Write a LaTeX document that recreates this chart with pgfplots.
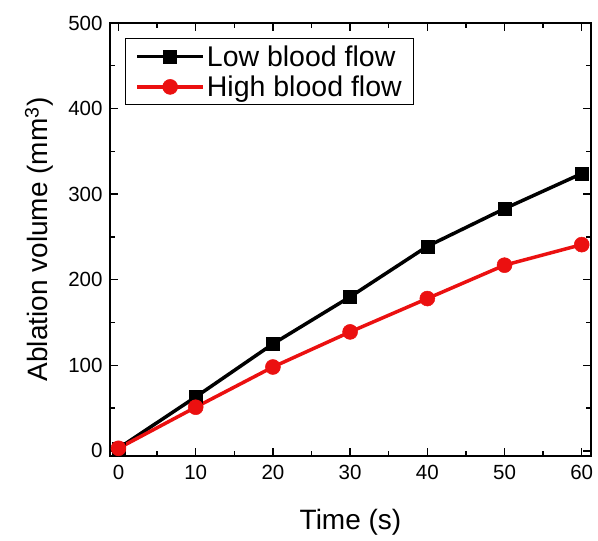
\documentclass[border=0pt]{standalone}
\usepackage{pgfplots}
\pgfplotsset{compat=1.18}
\usepackage{fontspec}
\setmainfont{Liberation Sans}
\definecolor{myred}{RGB}{235,16,16}
\begin{document}
\begin{tikzpicture}
\begin{axis}[
  at={(0pt,0pt)}, anchor=south west,
  scale only axis, width=481pt, height=433pt,
  xmin=-1.1, xmax=61.2, ymin=-6, ymax=500,
  xtick={0,10,...,60}, ytick={0,100,...,500},
  minor xtick={5,15,...,55}, minor ytick={50,150,...,450},
  tick align=inside, tick pos=both,
  major tick length=8pt, minor tick length=5pt,
  every tick/.style={black, line width=1.4pt},
  axis line style={line width=1.6pt},
  tick label style={font=\fontsize{20.5}{24}\selectfont},
  /pgf/number format/assume math mode=true,
  xticklabel style={yshift=-6pt},
  yticklabel style={xshift=-4pt},
  xlabel={Time (s)}, ylabel={Ablation volume (mm\textsuperscript{3})},
  label style={font=\fontsize{28}{33}\selectfont},
  xlabel style={yshift=-22pt},
  ylabel style={yshift=8pt},
  legend style={at={(0.031,0.965)}, anchor=north west, draw=black, line width=1pt,
    font=\fontsize{28.5}{34}\selectfont, inner xsep=10pt, inner ysep=5pt, row sep=4pt,
    cells={anchor=west}},
  legend image code/.code={\draw[mark repeat=2,mark phase=2] plot coordinates {(0pt,0pt)(33pt,0pt)(66pt,0pt)};},
]
\addplot[black, line width=3.5pt, mark=square*, mark size=6.5pt, mark options={solid, line width=0.5pt}]
  coordinates {(0,3)(10,63)(20,125)(30,180)(40,239)(50,283)(60,324)};
\addlegendentry{Low blood flow}
\addplot[myred, line width=3.5pt, mark=*, mark size=7.5pt, mark options={solid, line width=0.5pt}]
  coordinates {(0,3)(10,51)(20,98)(30,139)(40,178)(50,217)(60,241)};
\addlegendentry{High blood flow}
\end{axis}
\pgfresetboundingbox
\path (-110pt,-85pt) rectangle (488pt,456pt);
\end{tikzpicture}
\end{document}
